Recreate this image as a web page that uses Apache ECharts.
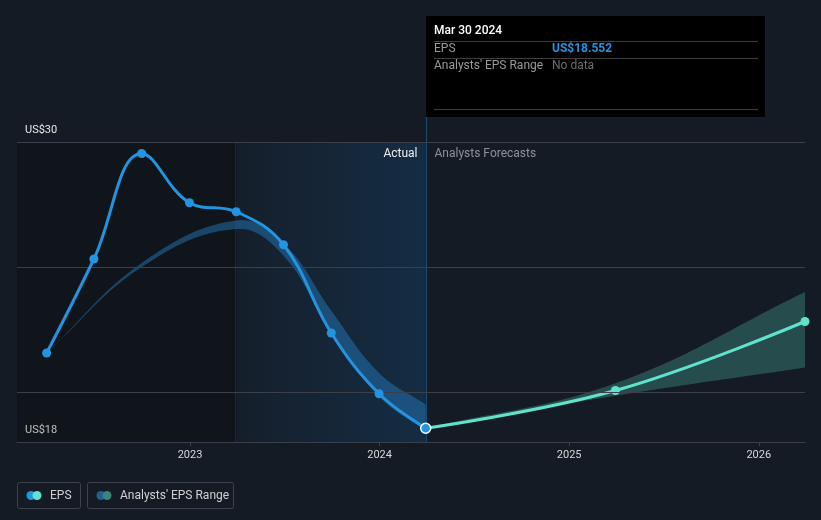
<!DOCTYPE html>
<html><head><meta charset="utf-8">
<script src="https://cdn.jsdelivr.net/npm/echarts@6/dist/echarts.min.js"></script>
<style>html,body{margin:0;padding:0;background:#151b24;} #c{width:821px;height:520px;}</style>
</head><body><div id="c"></div>
<script>
// ---- data ----
const epsDates = ['2022-03-31','2022-06-30','2022-09-30','2022-12-31','2023-03-31','2023-06-30','2023-09-30','2023-12-31','2024-03-30'];
const epsValues = [21.56,25.32,29.54,27.57,27.21,25.89,22.36,19.93,18.552];
const pastRangeDates = ['2022-03-31','2022-09-30','2023-03-31','2023-06-30','2023-09-30','2023-12-31','2024-03-30'];
const pastRangeLow  = [21.56,25.00,26.52,25.45,22.36,19.82,18.45];
const pastRangeHigh = [21.56,25.16,26.86,25.95,23.25,20.76,19.50];
const fcDates = ['2024-03-30','2025-03-31','2026-03-31'];
const fcValues = [18.552,20.06,22.82];
const fcRangeLow  = [18.552,19.85,20.98];
const fcRangeHigh = [18.552,20.35,24.00];
const xTickYears = [2023,2024,2025,2026];
const yLabelValues = [18,30];
const yGridValues = [20,25,30];
const tooltipDate = 'Mar 30 2024';
const tooltipEps = 'US$18.552';

// ---- helpers ----
function dy(s){const d=new Date(s+'T00:00:00Z');const y=d.getUTCFullYear();const a=Date.UTC(y,0,1),b=Date.UTC(y+1,0,1);return y+(d-a)/(b-a);}
const pairs=(ds,vs)=>ds.map((d,i)=>[dy(d),vs[i]]);
const xMax = dy('2026-03-31');
const xMin = 2022.0875;
const splitX = dy('2023-03-31');
const divX = dy(epsDates[epsDates.length-1]);
const FONT = 'Roboto, "Noto Sans", sans-serif';
const GRID = '#3a3f49';
const SMOOTH = 0.4;

// sample a smoothed curve (same control-point rule as ECharts line smoothing) through pixel points
function smoothSample(pts, s, n){
  const out=[pts[0]];
  const cps=pts.map((p,i)=>{
    const prev=pts[i-1]||p, next=pts[i+1]||p;
    const vx=next[0]-prev[0], vy=next[1]-prev[1];
    const l0=Math.hypot(p[0]-prev[0],p[1]-prev[1]), l1=Math.hypot(next[0]-p[0],next[1]-p[1]);
    const r=(l0+l1)>0? l1/(l0+l1):0.5;
    return {in:[p[0]-vx*s*(1-r),p[1]-vy*s*(1-r)], out:[p[0]+vx*s*r,p[1]+vy*s*r]};
  });
  for(let i=0;i<pts.length-1;i++){
    const p0=pts[i],p3=pts[i+1],p1=cps[i].out,p2=cps[i+1].in;
    for(let k=1;k<=n;k++){const t=k/n,u=1-t;
      out.push([u*u*u*p0[0]+3*u*u*t*p1[0]+3*u*t*t*p2[0]+t*t*t*p3[0],
                u*u*u*p0[1]+3*u*u*t*p1[1]+3*u*t*t*p2[1]+t*t*t*p3[1]]);}
  }
  return out;
}
function bandSeries(dates, lo, hi, color){
  return {type:'custom',coordinateSystem:'cartesian2d',silent:true,z:2,clip:true,
    data:[[dy(dates[0]),lo[0]]],
    renderItem:(params,api)=>{
      const up=smoothSample(dates.map((d,i)=>api.coord([dy(d),hi[i]])),SMOOTH,24);
      const dn=smoothSample(dates.map((d,i)=>api.coord([dy(d),lo[i]])),SMOOTH,24).reverse();
      return {type:'polygon',shape:{points:up.concat(dn)},style:{fill:color}};
    }};
}

const chart = echarts.init(document.getElementById('c'), null, {renderer:'canvas'});
const epsData = pairs(epsDates, epsValues).map((p,i,arr)=> i===arr.length-1 ?
  {value:p, symbolSize:10, itemStyle:{color:'#2394e0', borderColor:'#ffffff', borderWidth:1.5}} : p);
const fcData = pairs(fcDates, fcValues).map((p,i)=> i===0 ? {value:p, symbol:'none'} : p);

chart.setOption({
  backgroundColor:'#151b24',
  animation:false,
  textStyle:{fontFamily:FONT},
  grid:{left:17,right:16,top:142,bottom:78,containLabel:false},
  xAxis:{type:'value',min:xMin,max:xMax,
    axisLine:{show:true,lineStyle:{color:GRID,width:1}},
    axisTick:{show:true,customValues:xTickYears,length:4,lineStyle:{color:GRID}},
    axisLabel:{customValues:xTickYears,color:'#d8d8d8',fontSize:11,margin:8,formatter:v=>String(Math.round(v))},
    splitLine:{show:false}},
  yAxis:{type:'value',min:18,max:30,
    axisLine:{show:false},axisTick:{show:false},splitLine:{show:false},
    axisLabel:{customValues:yLabelValues,inside:true,margin:8,verticalAlign:'bottom',padding:[0,0,6,0],
      color:'#e8e8e8',fontSize:11,formatter:v=>'US$'+v}},
  series:[
    {type:'line',name:'bg',data:[],silent:true,z:0,
     markArea:{silent:true,data:[
       [{xAxis:xMin,itemStyle:{color:'rgba(0,0,0,0.2)'}},{xAxis:splitX}],
       [{xAxis:splitX,itemStyle:{color:{type:'linear',x:0,y:0,x2:1,y2:0,colorStops:[
          {offset:0,color:'rgba(20,100,170,0.05)'},{offset:1,color:'rgba(20,100,170,0.24)'}]}}},{xAxis:divX}]
     ]},
     markLine:{silent:true,symbol:['none','none'],label:{show:false},animation:false,
       lineStyle:{color:GRID,type:'solid',width:1},
       data:yGridValues.map(v=>({yAxis:v})).concat([{xAxis:splitX,lineStyle:{color:'rgba(40,90,140,0.3)'}}])}
    },
    bandSeries(pastRangeDates,pastRangeLow,pastRangeHigh,'rgba(38,128,200,0.45)'),
    bandSeries(fcDates,fcRangeLow,fcRangeHigh,'rgba(90,210,190,0.27)'),
    {type:'line',name:'EPS forecast',data:fcData,smooth:SMOOTH,symbol:'circle',symbolSize:9,
     lineStyle:{color:'#5fe3cc',width:3},itemStyle:{color:'#5fe3cc'},z:4},
    {type:'line',name:'EPS',data:epsData,smooth:SMOOTH,symbol:'circle',symbolSize:9,
     lineStyle:{color:'#2394e0',width:3},itemStyle:{color:'#2394e0'},z:5}
  ]
});

const px = chart.convertToPixel({xAxisIndex:0,yAxisIndex:0},[divX,30]);
const dvx = Math.round(px[0])+0.5;
const bottomY = chart.convertToPixel({xAxisIndex:0,yAxisIndex:0},[divX,18])[1];
const tipL = 426, tipT = 16, tipW = 339, tipH = 101;
chart.setOption({graphic:[
  {type:'line',silent:true,z:3,shape:{x1:dvx,y1:tipT+tipH,x2:dvx,y2:bottomY},style:{stroke:'#1f4b6e',lineWidth:1}},
  {type:'text',z:10,x:dvx-9,y:154,style:{text:'Actual',fill:'#eeeeee',font:'12px '+FONT,align:'right',verticalAlign:'middle'}},
  {type:'text',z:10,x:dvx+8,y:154,style:{text:'Analysts Forecasts',fill:'#8d9199',font:'12px '+FONT,align:'left',verticalAlign:'middle'}},
  // tooltip box
  {type:'rect',z:20,shape:{x:tipL,y:tipT,width:tipW,height:tipH},style:{fill:'#000000'}},
  {type:'text',z:21,x:434,y:31,style:{text:tooltipDate,fill:'#ffffff',font:'500 12px '+FONT,verticalAlign:'middle'}},
  {type:'line',z:21,shape:{x1:434,y1:41.5,x2:758,y2:41.5},style:{stroke:'#3e3e3e',lineWidth:1}},
  {type:'text',z:21,x:434,y:49,style:{text:'EPS',fill:'#9a9a9a',font:'12px '+FONT,verticalAlign:'middle'}},
  {type:'text',z:21,x:552,y:49,style:{text:tooltipEps,fill:'#2394e0',font:'bold 12px '+FONT,verticalAlign:'middle'}},
  {type:'line',z:21,shape:{x1:434,y1:58.5,x2:758,y2:58.5},style:{stroke:'#3e3e3e',lineWidth:1}},
  {type:'text',z:21,x:434,y:66,style:{text:"Analysts' EPS Range",fill:'#9a9a9a',font:'12px '+FONT,verticalAlign:'middle'}},
  {type:'text',z:21,x:552,y:66,style:{text:'No data',fill:'#6e6e6e',font:'12px '+FONT,verticalAlign:'middle'}},
  {type:'line',z:21,shape:{x1:434,y1:109.5,x2:758,y2:109.5},style:{stroke:'#3e3e3e',lineWidth:1}},
  // legend
  {type:'rect',z:20,shape:{x:17.5,y:482.5,width:63,height:26,r:2},style:{fill:'none',stroke:'#3d424c',lineWidth:1}},
  {type:'circle',z:21,shape:{cx:31,cy:495.5,r:4.5},style:{fill:'#2394e0'}},
  {type:'circle',z:22,shape:{cx:37,cy:495.5,r:4.5},style:{fill:'#5fe3cc'}},
  {type:'text',z:21,x:50,y:495.5,style:{text:'EPS',fill:'#d0d0d0',font:'12px '+FONT,verticalAlign:'middle'}},
  {type:'rect',z:20,shape:{x:87.5,y:482.5,width:146,height:26,r:2},style:{fill:'none',stroke:'#3d424c',lineWidth:1}},
  {type:'circle',z:21,shape:{cx:101,cy:495.5,r:4.5},style:{fill:'#245f8e'}},
  {type:'circle',z:22,shape:{cx:107,cy:495.5,r:4.5},style:{fill:'#3b837d'}},
  {type:'text',z:21,x:120,y:495.5,style:{text:"Analysts' EPS Range",fill:'#d0d0d0',font:'12px '+FONT,verticalAlign:'middle'}}
]});
</script></body></html>
